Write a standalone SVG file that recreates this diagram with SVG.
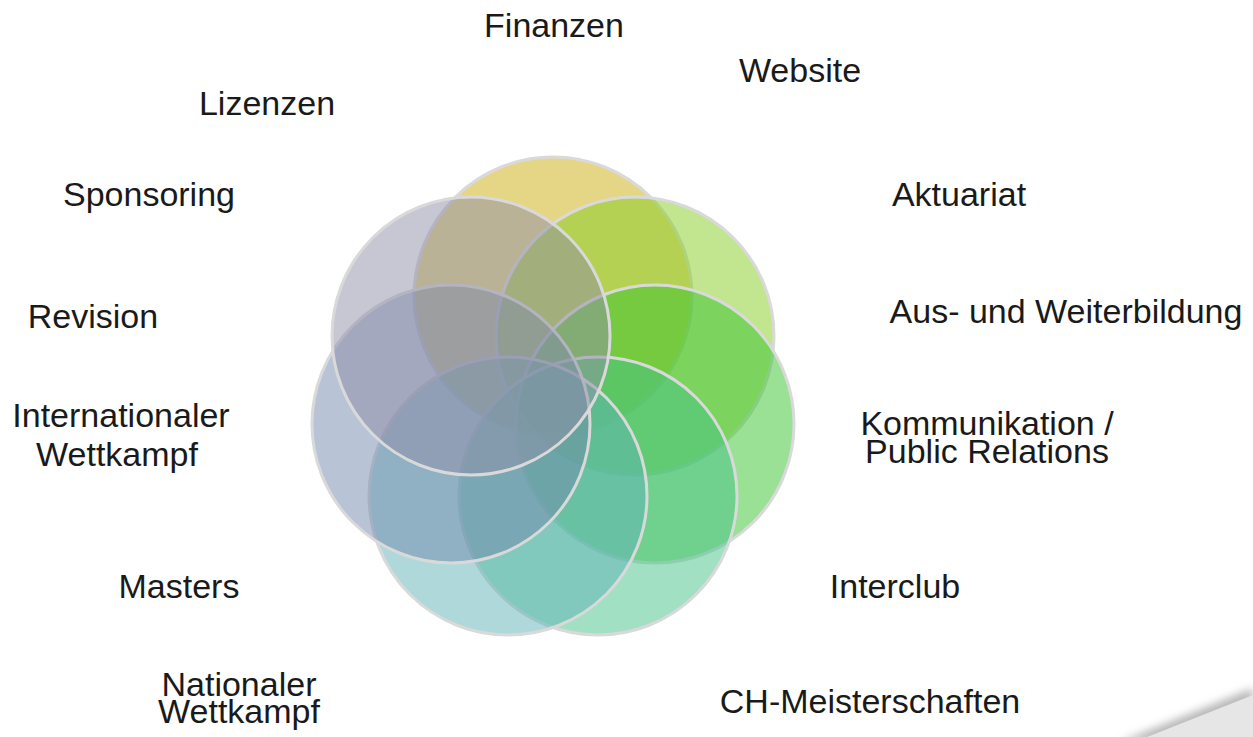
<svg xmlns="http://www.w3.org/2000/svg" width="1253" height="737" viewBox="0 0 1253 737">
<defs>
<style>
.c{stroke:#d9d9d9;stroke-width:3;}
.t{font-family:"Liberation Sans",Arial,sans-serif;font-size:34px;fill:#1a1a1a;text-anchor:middle;}
</style>
<filter id="blur" x="-20%" y="-50%" width="140%" height="200%"><feGaussianBlur stdDeviation="4"/></filter>
</defs>
<rect width="1253" height="737" fill="#ffffff"/>
<g id="corner">
<polygon points="1120,742 1253,688 1253,742" fill="#b8b8b8" filter="url(#blur)"/>
<polygon points="1147,737 1253,695 1253,737" fill="#e6e6e6"/>
</g>
<g id="circles">
<g id="c1"><circle class="c" cx="553" cy="296" r="139" fill="rgba(203,173,13,0.5)"/></g>
<g id="c2"><circle class="c" cx="635" cy="336" r="139" fill="rgba(133,203,31,0.5)"/></g>
<g id="c3"><circle class="c" cx="655" cy="424" r="139" fill="rgba(53,195,45,0.5)"/></g>
<g id="c4"><circle class="c" cx="598" cy="496" r="139" fill="rgba(69,193,135,0.5)"/></g>
<g id="c5"><circle class="c" cx="508" cy="496" r="139" fill="rgba(93,177,181,0.5)"/></g>
<g id="c6"><circle class="c" cx="451" cy="424" r="139" fill="rgba(113,135,171,0.5)"/></g>
<g id="c7"><circle class="c" cx="471" cy="336" r="139" fill="rgba(143,141,167,0.5)"/></g>
</g>
<g id="labels">
<g id="l-finanzen"><text class="t" x="554" y="37">Finanzen</text></g>
<g id="l-website"><text class="t" x="800" y="82">Website</text></g>
<g id="l-lizenzen"><text class="t" x="267" y="115">Lizenzen</text></g>
<g id="l-sponsoring"><text class="t" x="149" y="206">Sponsoring</text></g>
<g id="l-aktuariat"><text class="t" x="959" y="206">Aktuariat</text></g>
<g id="l-revision"><text class="t" x="93" y="328">Revision</text></g>
<g id="l-aus"><text class="t" x="1066" y="323">Aus- und Weiterbildung</text></g>
<g id="l-intl"><text class="t" x="121" y="427">Internationaler</text><text class="t" x="117" y="466">Wettkampf</text></g>
<g id="l-komm"><text class="t" x="987" y="435">Kommunikation /</text><text class="t" x="987" y="463">Public Relations</text></g>
<g id="l-masters"><text class="t" x="179" y="598">Masters</text></g>
<g id="l-interclub"><text class="t" x="895" y="598">Interclub</text></g>
<g id="l-national"><text class="t" x="239" y="696">Nationaler</text><text class="t" x="239" y="723">Wettkampf</text></g>
<g id="l-ch"><text class="t" x="870" y="713">CH-Meisterschaften</text></g>
</g>
</svg>
